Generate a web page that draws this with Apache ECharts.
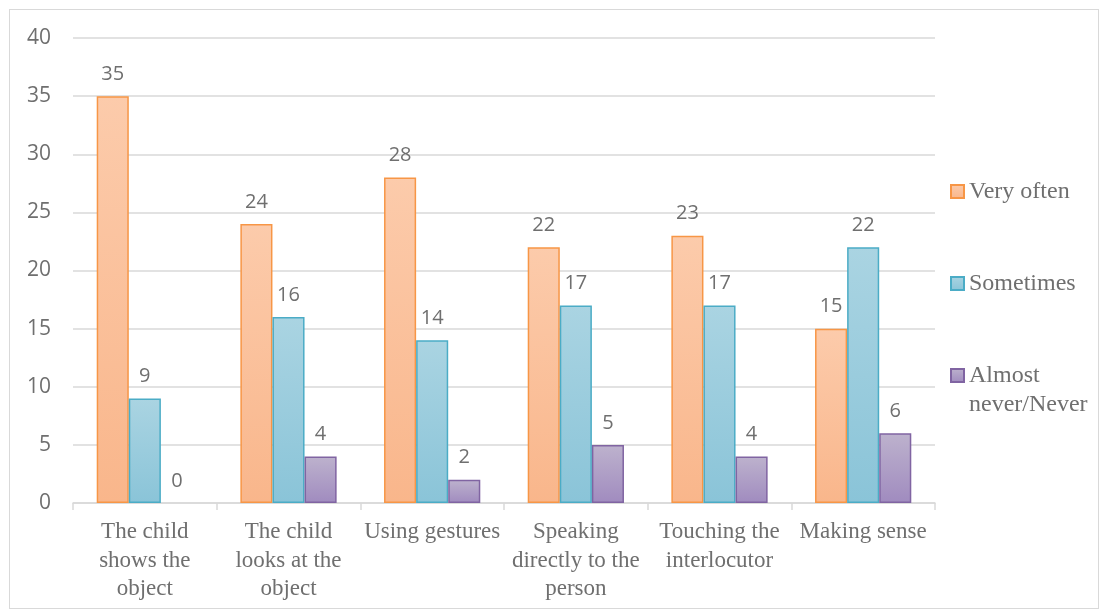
<!DOCTYPE html>
<html>
<head>
<meta charset="utf-8">
<script src="https://cdn.jsdelivr.net/npm/echarts@6/dist/echarts.min.js"></script>
<style>
  html, body { margin: 0; padding: 0; background: #fff; }
  #frame { position: absolute; left: 9px; top: 9px; width: 1090px; height: 600px; border: 1px solid #d9d9d9; box-sizing: border-box; }
  #chart { position: absolute; left: 0; top: 0; width: 1102px; height: 612px; }
</style>
</head>
<body>
<div id="frame"></div>
<div id="chart"></div>
<script>
// Communication behaviours and how often each is observed
const categories = [
  'The child\nshows the\nobject',
  'The child\nlooks at the\nobject',
  'Using gestures',
  'Speaking\ndirectly to the\nperson',
  'Touching the\ninterlocutor',
  'Making sense'
];
const seriesNames = ['Very often', 'Sometimes', 'Almost\nnever/Never'];
const veryOften = [35, 24, 28, 22, 23, 15];
const sometimes = [9, 16, 14, 17, 17, 22];
const almostNever = [0, 4, 2, 5, 4, 6];
const yTicks = { min: 0, max: 40, interval: 5 };

const SERIF = 'Liberation Serif, Times New Roman, serif';
const SANS = 'Open Sans, Noto Sans, sans-serif';
const TEXT_GREY = '#6f6f6f';

function grad(top, bottom) {
  return new echarts.graphic.LinearGradient(0, 0, 0, 1, [
    { offset: 0, color: top },
    { offset: 1, color: bottom }
  ]);
}

const labelStyle = {
  show: true,
  position: 'top',
  distance: 12,
  color: TEXT_GREY,
  fontSize: 20,
  fontFamily: SANS
};

// zero-height bars get no outline, so they leave no mark on the axis
function makeSeries(name, values, top, bottom, border) {
  return {
    name: name,
    type: 'bar',
    data: values.map(v => ({
      value: v,
      itemStyle: v === 0 ? { borderWidth: 0 } : {}
    })),
    barGap: '0%',
    barCategoryGap: '33%',
    itemStyle: { color: grad(top, bottom), borderColor: border, borderWidth: 1.5 },
    label: labelStyle
  };
}

// One legend block per series. A two-line name gets a leading blank line so
// its first line sits level with the swatch.
function legendAt(name, top) {
  const twoLines = name.indexOf('\n') >= 0;
  return {
    orient: 'vertical',
    left: 950,
    top: top,
    padding: 0,
    itemWidth: 13,
    itemHeight: 13,
    icon: 'rect',
    selectedMode: false,
    formatter: n => (twoLines ? '\n' + n : n),
    textStyle: {
      color: TEXT_GREY,
      fontSize: 24,
      fontFamily: SERIF,
      lineHeight: 29
    },
    data: [name]
  };
}

const chart = echarts.init(document.getElementById('chart'), null, { renderer: 'canvas' });
chart.setOption({
  animation: false,
  backgroundColor: 'transparent',
  grid: { left: 73, right: 167, top: 38, bottom: 109, containLabel: false },
  legend: [
    legendAt(seriesNames[0], 177),
    legendAt(seriesNames[1], 269),
    legendAt(seriesNames[2], 332)
  ],
  xAxis: {
    type: 'category',
    data: categories,
    axisLine: { lineStyle: { color: '#d9d9d9', width: 1.5 } },
    axisTick: { show: true, length: 7, lineStyle: { color: '#d9d9d9', width: 1.5 } },
    axisLabel: {
      interval: 0,
      margin: 15,
      color: TEXT_GREY,
      fontSize: 23,
      lineHeight: 28.5,
      fontFamily: SERIF
    }
  },
  yAxis: {
    type: 'value',
    min: yTicks.min,
    max: yTicks.max,
    interval: yTicks.interval,
    axisLine: { show: false },
    axisTick: { show: false },
    axisLabel: {
      color: TEXT_GREY,
      fontSize: 21,
      margin: 22,
      fontFamily: SANS
    },
    splitLine: { lineStyle: { color: '#d9d9d9', width: 1.5 } }
  },
  series: [
    makeSeries(seriesNames[0], veryOften, '#fccbab', '#f9b68b', '#f79646'),
    makeSeries(seriesNames[1], sometimes, '#aad4e2', '#8ac4d8', '#4bacc6'),
    makeSeries(seriesNames[2], almostNever, '#bdb2cd', '#a08bbf', '#8064a2')
  ]
});
</script>
</body>
</html>
